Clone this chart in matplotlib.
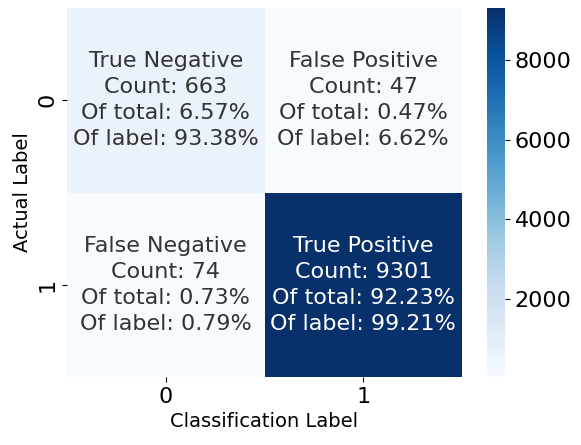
import numpy as np
import matplotlib
matplotlib.use("Agg")
import matplotlib.pyplot as plt
import seaborn as sns

group_names = ["True Negative", "False Positive", "False Negative", "True Positive"]
counts = [663, 47, 74, 9301]
pct_total = ["6.57%", "0.47%", "0.73%", "92.23%"]
pct_label = ["93.38%", "6.62%", "0.79%", "99.21%"]
tick_labels = ["0", "1"]

cf = np.array(counts).reshape(2, 2)
labels = [f"{n}\nCount: {c}\nOf total: {t}\nOf label: {l}"
          for n, c, t, l in zip(group_names, counts, pct_total, pct_label)]
labels = np.array(labels).reshape(2, 2)

fig = plt.figure(figsize=(5.81, 4.45), dpi=100)
ax = fig.add_axes([67/581, 1 - 377/445, (462-67)/581, (377-8)/445])
cax = fig.add_axes([487/581, 1 - 377/445, (505-487)/581, (377-8)/445])

sns.heatmap(cf, annot=labels, fmt="", cmap="Blues", ax=ax, cbar_ax=cax,
            annot_kws={"fontsize": 16, "linespacing": 1.38},
            xticklabels=tick_labels, yticklabels=tick_labels)
for t in ax.texts:
    if t.get_color() != "w":
        t.set_color("#333333")
ax.tick_params(axis="both", labelsize=16)
cax.tick_params(labelsize=16)
ax.set_xlabel("Classification Label", fontsize=14)
ax.set_ylabel("Actual Label", fontsize=14)

fig.savefig("out.png", dpi=100)
